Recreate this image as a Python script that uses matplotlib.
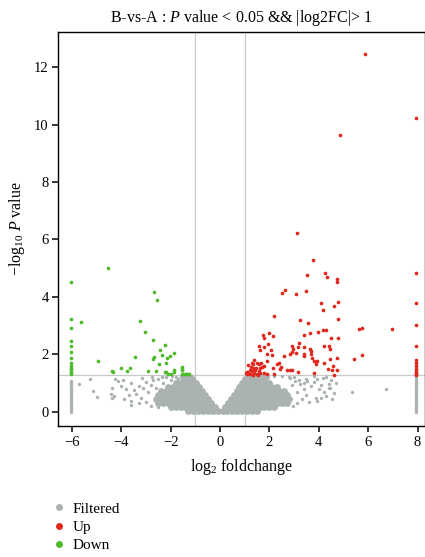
import matplotlib
matplotlib.use("Agg")
import matplotlib.pyplot as plt
import numpy as np
from matplotlib.lines import Line2D

# significant points (log2 FC, -log10 P)
up_x = [5.89, 7.93, 4.84, 3.10, 3.77, 3.52, 4.27, 4.35, 4.72, 4.72, 7.93, 2.63, 2.52, 3.09, 3.47,
        4.07, 4.78, 4.63, 7.93, 4.16, 2.20, 3.22, 3.55, 4.77, 7.93, 4.17, 4.28, 3.97, 3.63, 1.99,
        1.73, 2.13, 3.39, 5.62, 5.74, 6.95, 1.79, 4.50, 4.77, 1.59, 1.94, 1.76, 3.18, 3.14, 2.91,
        2.94, 3.63, 3.41, 3.70, 4.42, 4.47, 4.23, 1.63, 2.06, 1.90, 2.10, 2.57, 2.85, 3.41, 3.41,
        3.70, 3.73, 3.09, 2.91, 3.93, 4.20, 4.44, 4.74, 1.35, 1.49, 1.56, 1.67, 1.69, 1.79, 1.39,
        1.92, 2.13, 2.30, 2.37, 2.47, 2.44, 2.71, 2.85, 2.93, 3.14, 3.82, 3.90, 4.36, 4.54, 4.74,
        4.57, 4.61, 3.79, 5.42, 5.73, 1.08, 1.15, 1.22, 1.29, 1.33, 1.38, 1.42, 1.49, 1.56, 1.63,
        1.46, 1.35, 1.76, 1.90, 2.17, 1.10, 1.20, 1.25, 1.05, 1.60, 1.55, 1.15, 1.30,
        7.93, 7.93, 7.93, 7.93, 7.93, 7.93, 7.93, 7.93, 7.93]
up_y = [12.47, 10.24, 9.62, 6.22, 5.28, 4.75, 4.82, 4.69, 4.61, 4.52, 4.84, 4.24, 4.13, 4.12, 4.20,
        3.78, 3.81, 3.67, 3.78, 3.53, 3.33, 3.19, 3.09, 3.24, 3.01, 2.84, 2.84, 2.78, 2.74, 2.74,
        2.67, 2.65, 2.66, 2.87, 2.92, 2.90, 2.58, 2.58, 2.58, 2.29, 2.35, 2.27, 2.39, 2.27, 2.29,
        2.20, 2.18, 2.27, 2.13, 2.28, 2.18, 2.30, 2.14, 2.14, 2.02, 1.98, 1.94, 2.02, 2.00, 1.96,
        2.02, 1.89, 2.05, 2.07, 1.77, 1.71, 1.83, 1.89, 1.68, 1.71, 1.66, 1.71, 1.56, 1.60, 1.81,
        1.76, 1.54, 1.66, 1.71, 1.56, 1.48, 1.45, 1.45, 1.45, 1.40, 1.77, 1.68, 1.48, 1.45, 1.45,
        1.60, 1.30, 1.35, 1.84, 1.98, 1.31, 1.36, 1.33, 1.42, 1.28, 1.36, 1.45, 1.33, 1.42, 1.36,
        1.54, 1.52, 1.36, 1.31, 1.33, 1.40, 1.45, 1.55, 1.34, 1.52, 1.30, 1.65, 1.70,
        1.28, 1.32, 1.36, 1.42, 1.48, 1.60, 1.71, 1.81, 2.30]

down_x = [-6.03, -4.52, -2.67, -2.55, -6.03, -6.03, -5.62, -3.26, -3.04, -2.71, -2.24, -2.44,
          -1.86, -2.35, -2.03, -2.14, -2.68, -2.71, -3.44, -4.96, -2.48, -2.18, -4.00, -3.66,
          -3.77, -4.39, -4.34, -2.91, -2.60, -2.24, -2.17, -1.86, -1.54, -1.53, -1.56, -2.10,
          -2.00, -1.87, -1.55, -1.48, -1.42, -1.36, -1.30, -1.25,
          -6.03, -6.03, -6.03, -6.03, -6.03, -6.03, -6.03, -6.03, -6.03, -6.03, -6.03]
down_y = [4.52, 5.02, 4.19, 3.89, 3.22, 2.93, 3.13, 3.15, 2.78, 2.51, 2.32, 2.14,
          2.05, 1.98, 1.93, 1.87, 1.91, 1.83, 1.92, 1.77, 1.66, 1.70, 1.53, 1.52,
          1.42, 1.41, 1.38, 1.41, 1.41, 1.38, 1.39, 1.46, 1.56, 1.50, 1.45, 1.31,
          1.33, 1.38, 1.32, 1.31, 1.33, 1.32, 1.31, 1.32,
          1.31, 1.36, 1.42, 1.48, 1.54, 1.60, 1.71, 1.89, 2.09, 2.29, 2.47]

# the solid grey mass around zero, read row by row (y: x positions)
core_rows = {
    0.02: [-1.3, -1.1, -0.9, -0.7, -0.5, -0.3, -0.1, 0.1, 0.3, 0.5, 0.7, 0.9, 1.1, 1.3, 1.5],
    0.16: [-2.0, -1.8, -1.6, -1.4, -1.2, -1.0, -0.8, -0.6, -0.4, -0.22,
           0.22, 0.4, 0.6, 0.8, 1.0, 1.2, 1.4, 1.6, 1.8, 2.0, 2.2],
    0.30: [-2.5, -2.3, -2.1, -1.9, -1.7, -1.5, -1.3, -1.1, -0.9, -0.7, -0.5, -0.35,
           0.33, 0.5, 0.7, 0.9, 1.1, 1.3, 1.5, 1.7, 1.9, 2.1, 2.3, 2.5, 2.7],
    0.44: [-2.6, -2.4, -2.2, -2.0, -1.8, -1.6, -1.4, -1.2, -1.0, -0.8, -0.6, -0.47,
           0.45, 0.6, 0.8, 1.0, 1.2, 1.4, 1.6, 1.8, 2.0, 2.2, 2.4, 2.6, 2.8],
    0.58: [-2.5, -2.3, -2.1, -1.9, -1.7, -1.5, -1.3, -1.1, -0.9, -0.7, -0.6,
           0.56, 0.7, 0.9, 1.1, 1.3, 1.5, 1.7, 1.9, 2.1, 2.3, 2.5, 2.7],
    0.72: [-2.4, -2.2, -2.0, -1.8, -1.6, -1.4, -1.2, -1.0, -0.85, -0.72,
           0.67, 0.8, 1.0, 1.2, 1.4, 1.6, 1.8, 2.0, 2.2, 2.4, 2.6],
    0.86: [-2.1, -1.9, -1.7, -1.5, -1.3, -1.1, -0.95, -0.84,
           0.78, 0.9, 1.1, 1.3, 1.5, 1.7, 1.9, 2.1, 2.3],
    1.00: [-1.8, -1.6, -1.4, -1.2, -1.07, -0.96, 0.9, 1.05, 1.2, 1.4, 1.6, 1.8, 2.0],
    1.14: [-1.45, -1.3, -1.15, 1.02, 1.15, 1.3, 1.45, 1.6, 1.75],
    1.22: [-1.5, -1.35, -1.2, 1.1, 1.25, 1.4, 1.55, 1.7, 1.85],
}

# scattered grey points outside the mass
sparse_x = [-5.27, -5.72, -5.13, -4.97, -4.24, -4.13, -4.39, -4.43, -4.30, -4.39, -3.90, -3.70,
            -3.60, -3.50, -3.30, -3.20, -3.00, -3.00, -2.80, -2.90, -3.40, -3.80, -3.10, -2.70,
            -2.50, -2.30, -2.60, -2.20, -2.00, -1.80, -1.70, -3.60, -4.00, -3.30, -2.80, -2.50,
            -3.60, -3.95, -3.15, -2.75, -2.35, -1.95, -1.60, -1.35, -1.20,
            3.00, 3.20, 3.40, 3.50, 3.70, 3.80, 4.00, 4.10, 4.20, 4.30, 4.40, 4.50, 4.60, 3.30,
            3.50, 3.60, 3.90, 3.10, 2.90, 3.10, 5.33, 6.74, 4.55, 2.80, 2.50, 2.20, 1.90, 3.80,
            4.30, 4.70, 3.52, 3.93, 4.16, 4.40, 4.47, 4.07, 3.93, 3.25, 3.39, 2.85, 3.05, 2.95,
            1.70, 1.40, 1.20]
sparse_y = [1.16, 0.98, 0.72, 0.53, 1.16, 1.08, 0.84, 0.61, 0.56, 0.50, 0.45, 0.60,
            0.38, 0.75, 0.90, 0.50, 0.35, 1.05, 0.95, 0.70, 0.62, 0.80, 0.82, 1.10,
            1.15, 1.02, 0.85, 1.20, 1.10, 1.22, 1.15, 1.00, 0.90, 0.30, 0.22, 0.18,
            0.25, 1.12, 1.18, 1.20, 1.22, 1.25, 1.24, 1.25, 1.26,
            1.20, 1.10, 1.00, 1.15, 0.90, 1.05, 0.80, 0.95, 0.70, 0.55, 0.85, 1.10, 0.65, 0.45,
            0.60, 0.35, 0.50, 0.30, 0.95, 0.70, 0.69, 0.79, 0.45, 1.20, 1.25, 1.25, 1.27, 1.25,
            1.20, 1.00, 1.08, 1.13, 1.19, 0.96, 0.84, 0.50, 0.38, 0.96, 0.79, 1.19, 1.08, 0.20,
            1.27, 1.27, 1.27]

# the two clipped columns at the edges of the fold-change range
edge_left_y = [0.0, 0.06, 0.12, 0.18, 0.24, 0.30, 0.36, 0.42, 0.48, 0.54, 0.60, 0.66, 0.72,
               0.78, 0.84, 0.90, 0.96, 1.02, 1.08]
edge_right_y = [0.0, 0.06, 0.12, 0.18, 0.24, 0.30, 0.36, 0.42, 0.48, 0.54, 0.60, 0.66, 0.72,
                0.78, 0.84, 0.90, 0.96, 1.02, 1.08, 1.14, 1.20]

x_ticks = [-6, -4, -2, 0, 2, 4, 6, 8]
y_ticks = [0, 2, 4, 6, 8, 10, 12]

grey = '#abb2b2'
red = '#e0281e'
green = '#4dbb2c'


def main():
    plt.rcParams['font.family'] = ['Liberation Serif', 'DejaVu Serif']
    plt.rcParams['mathtext.fontset'] = 'custom'
    plt.rcParams['mathtext.rm'] = 'Liberation Serif'
    plt.rcParams['mathtext.it'] = 'Liberation Serif:italic'

    fig = plt.figure(figsize=(4.25, 5.57), dpi=100)
    ax = fig.add_axes([58.3 / 425, 1 - 426.3 / 557, 1 - 58.3 / 425, (426.3 - 31.7) / 557])

    # reference lines
    ax.axvline(-1, color='#c8c8c8', lw=0.9, zorder=1)
    ax.axvline(1, color='#c8c8c8', lw=0.9, zorder=1)
    ax.axhline(-np.log10(0.05), color='#c8c8c8', lw=0.9, zorder=1)

    core_x = []
    core_y = []
    for yy, xs in core_rows.items():
        core_x += xs
        core_y += [yy] * len(xs)
    ax.scatter(core_x, core_y, s=24, color=grey, lw=0, zorder=2)
    ax.scatter(sparse_x, sparse_y, s=6, color=grey, lw=0, zorder=2)
    ax.scatter([-6.03] * len(edge_left_y), edge_left_y, s=6, color=grey, lw=0, zorder=2)
    ax.scatter([7.93] * len(edge_right_y), edge_right_y, s=6, color=grey, lw=0, zorder=2)

    ax.scatter(up_x, up_y, s=7, color=red, lw=0, zorder=3)
    ax.scatter(down_x, down_y, s=7, color=green, lw=0, zorder=3)

    ax.set_xlim(-6.55, 8.3)
    ax.set_ylim(-0.5, 13.23)
    ax.set_xticks(x_ticks)
    ax.set_yticks(y_ticks)
    ax.set_xticklabels(['\u2212%d' % -t if t < 0 else str(t) for t in x_ticks])
    ax.tick_params(direction='out', length=4, width=1.1, labelsize=10.5, pad=3)
    for sp in ax.spines.values():
        sp.set_linewidth(1.0)

    ax.set_xlabel(r'$\mathrm{log}_2$ foldchange', fontsize=11.5, labelpad=6)
    ax.set_ylabel(r'$\mathrm{-log}_{10}\ P$ value', fontsize=11.5, labelpad=5)
    ax.set_title(r'B-vs-A : $P$ value < 0.05 && |log2FC|> 1', fontsize=11.5, pad=7)

    handles = [Line2D([], [], marker='o', ls='', ms=5, color=c, mec='none') for c in (grey, red, green)]
    fig.legend(handles, ['Filtered', 'Up', 'Down'], loc='upper left',
               bbox_to_anchor=(48 / 425, 1 - 496 / 557), frameon=False, fontsize=11,
               handlelength=0.6, handletextpad=0.6, labelspacing=0.3, borderaxespad=0)

    fig.savefig('out.png', dpi=100)


if __name__ == '__main__':
    main()
